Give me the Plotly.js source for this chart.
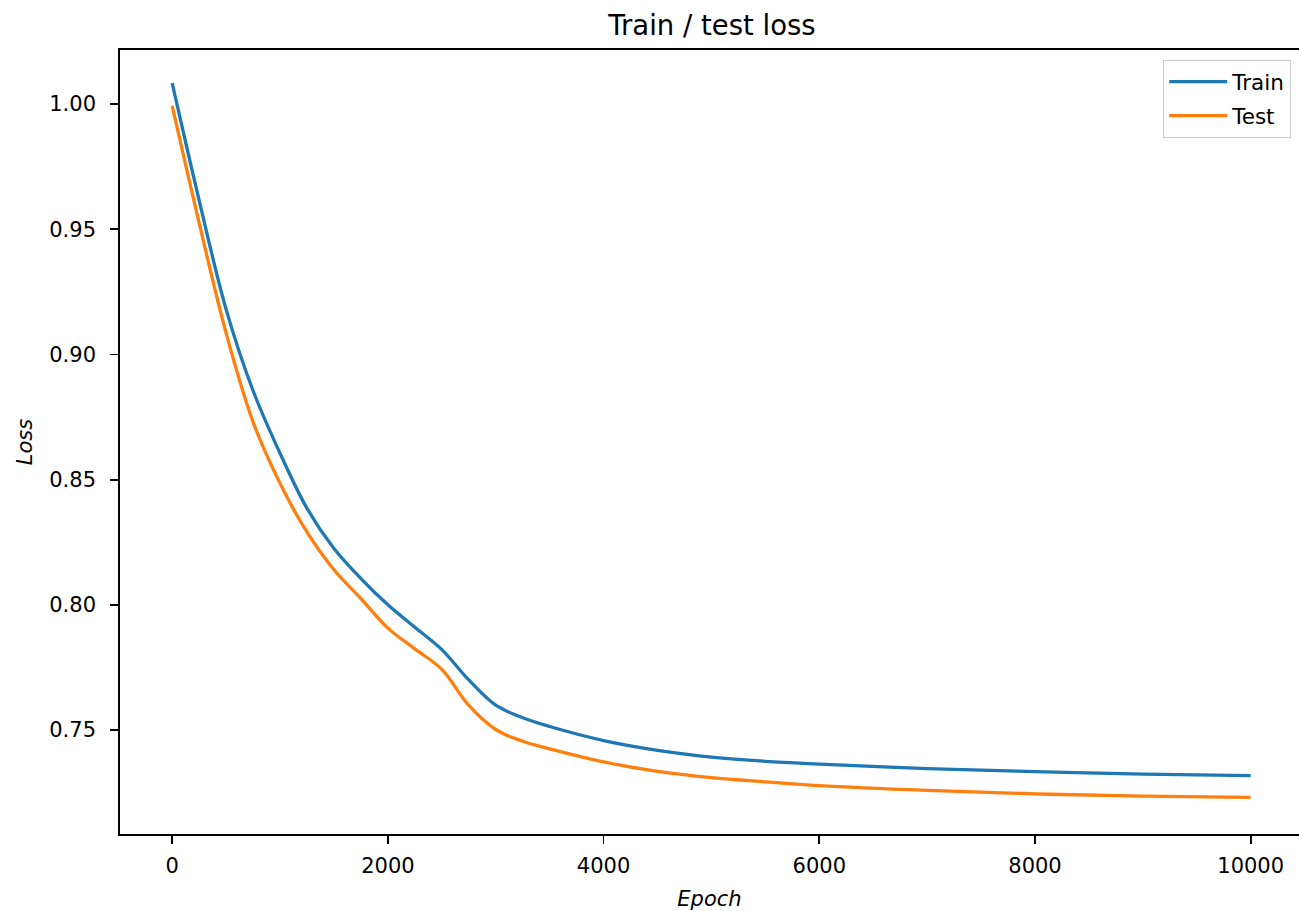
<!DOCTYPE html>
<html>
<head>
<meta charset="utf-8">
<script src="https://cdn.plot.ly/plotly-3.0.1.min.js"></script>
<style>html,body{margin:0;padding:0;background:#fff;}#chart{width:1299px;height:911px;}</style>
</head>
<body>
<div id="chart"></div>
<script>
// Data
const trainEpochs = [0,250,500,750,1000,1250,1500,1750,2000,2250,2500,2750,3000,3250,3500,4000,4500,5000,5500,6000,7000,8000,9000,9999];
const trainLoss   = [1.0083,0.9615,0.9180,0.8855,0.8605,0.8385,0.8225,0.8105,0.8000,0.7910,0.7821,0.7700,0.7599,0.7549,0.7514,0.7458,0.7419,0.7392,0.7375,0.7364,0.7346,0.7334,0.7324,0.7318];
const testEpochs  = [0,250,500,750,1000,1250,1500,1750,2000,2250,2500,2750,3000,3250,3500,4000,4500,5000,5500,6000,7000,8000,9000,9999];
const testLoss    = [0.9993,0.9525,0.9085,0.8730,0.8485,0.8290,0.8140,0.8025,0.7907,0.7824,0.7742,0.7598,0.7502,0.7455,0.7425,0.7373,0.7335,0.7310,0.7293,0.7278,0.7259,0.7245,0.7236,0.7231];
const seriesNames = ["Train", "Test"];
const xTicks = [0,2000,4000,6000,8000,10000];
const yTicks = [0.75,0.80,0.85,0.90,0.95,1.00];

const FONT = "DejaVu Sans";
const traces = [
  {x: trainEpochs, y: trainLoss, name: seriesNames[0], type: "scatter", mode: "lines",
   line: {color: "#1f77b4", width: 3.3, shape: "spline", smoothing: 1}, legendgroup: "a"},
  {x: testEpochs, y: testLoss, name: seriesNames[1], type: "scatter", mode: "lines",
   line: {color: "#ff7f0e", width: 3.3, shape: "spline", smoothing: 1}, legendgroup: "b"}
];
const axisCommon = {
  showgrid: false, zeroline: false, showline: true, linecolor: "#000", linewidth: 1.8,
  ticks: "outside", ticklen: 8, tickwidth: 1.8, tickcolor: "#000",
  tickfont: {family: FONT, size: 21, color: "#000"}
};
const layout = {
  width: 1299, height: 911,
  margin: {l: 120, r: 0, t: 50, b: 77, pad: 0},
  paper_bgcolor: "#fff", plot_bgcolor: "#fff",
  font: {family: FONT, color: "#000"},
  title: {text: "Train / test loss", font: {family: FONT, size: 27.5, color: "#000"},
          x: 712/1299, xref: "container", xanchor: "center", y: 1 - 25/911, yref: "container", yanchor: "middle"},
  xaxis: Object.assign({}, axisCommon, {
    range: [-484, 10448], tickvals: xTicks, ticktext: xTicks.map(String), mirror: true,
    ticklabelstandoff: 4,
    title: {text: "Epoch", font: {family: FONT, size: 21, style: "italic", color: "#000"}, standoff: 14}
  }),
  yaxis: Object.assign({}, axisCommon, {
    range: [0.70847, 1.02157], tickvals: yTicks, ticktext: yTicks.map(v => v.toFixed(2)), mirror: false,
    ticklabelstandoff: 10,
    title: {text: "Loss", font: {family: FONT, size: 21, style: "italic", color: "#000"}, standoff: 11}
  }),
  showlegend: true,
  legend: {x: (1291-120)/1179, xanchor: "right", y: 1 - 10/784, yanchor: "top",
           bgcolor: "rgba(255,255,255,0.8)", bordercolor: "#cccccc", borderwidth: 1.2,
           itemwidth: 58,
           font: {family: FONT, size: 21.5, color: "#000"}, tracegroupgap: 3}
};
Plotly.newPlot("chart", traces, layout, {staticPlot: true, displayModeBar: false});
</script>
</body>
</html>
